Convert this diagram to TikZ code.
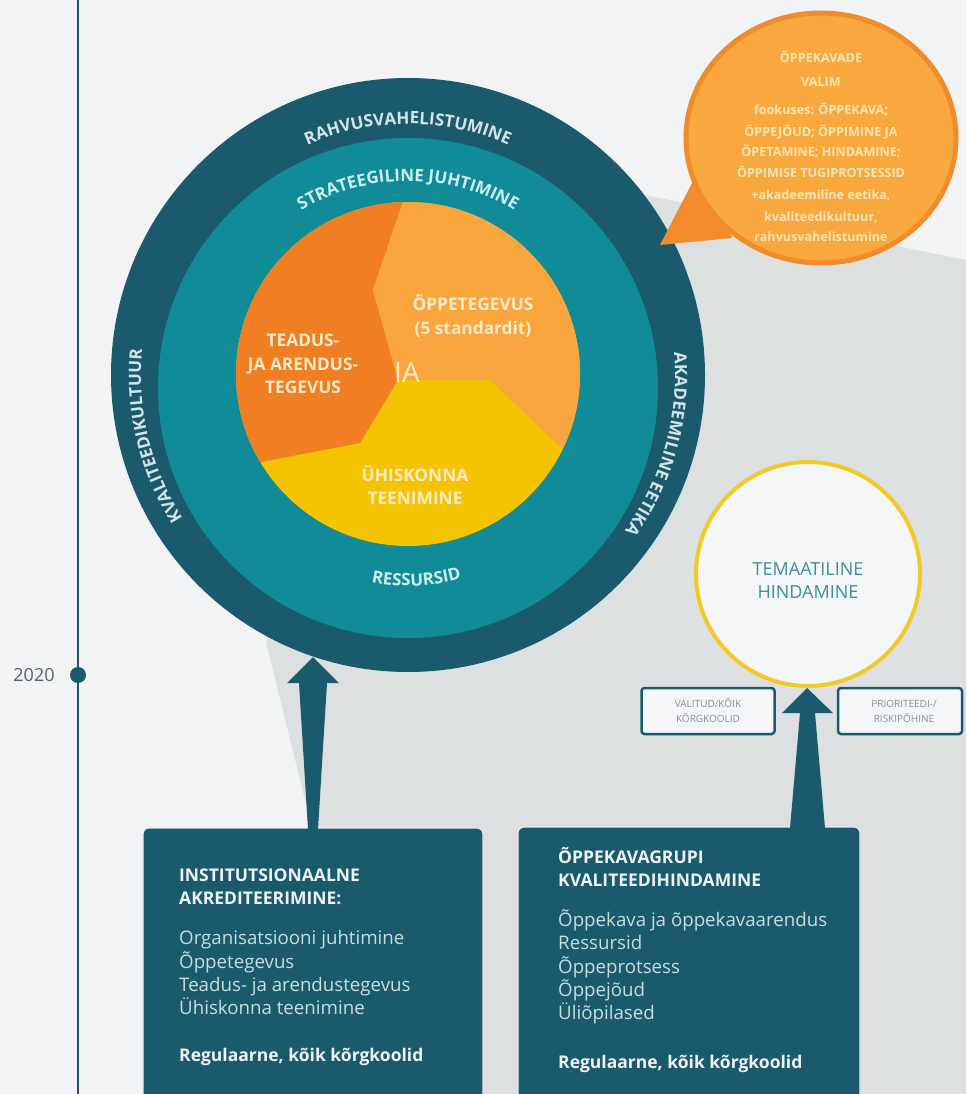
\documentclass[tikz,border=0pt]{standalone}
\usepackage{fontspec}
\setmainfont{Open Sans}
\usetikzlibrary{decorations.text,shapes.geometric}
\definecolor{bglight}{HTML}{F1F3F4}
\definecolor{bgshadow}{HTML}{DDE0E1}
\definecolor{darkteal}{HTML}{1A5A6C}
\definecolor{midteal}{HTML}{108B97}
\definecolor{orangeD}{HTML}{F07E22}
\definecolor{orangeL}{HTML}{F8A63D}
\definecolor{yellowP}{HTML}{F4C402}
\definecolor{creamtxt}{HTML}{FDEBCB}
\definecolor{ringtxtD}{HTML}{D3E4EA}
\definecolor{ringtxtT}{HTML}{CDEFF1}
\definecolor{boxtxt}{HTML}{C8DDE2}
\definecolor{boxtitle}{HTML}{EEF4F5}
\definecolor{bubbleO}{HTML}{F08C2C}
\definecolor{bubbleF}{HTML}{F8A83F}
\definecolor{bubbletxt}{HTML}{FDE6B5}
\definecolor{temaline}{HTML}{F1C928}
\definecolor{temafill}{HTML}{F4F6F8}
\definecolor{tematxt}{HTML}{3F8E99}
\definecolor{smalltxt}{HTML}{7F9199}
\definecolor{yeartxt}{HTML}{5A5F62}
\definecolor{boxedge}{HTML}{E2ECEF}
\tikzset{
  pietxt/.style={text=creamtxt, align=center, inner sep=0pt, font=\fontsize{17.3}{23.5}\selectfont\bfseries},
  boxtitletxt/.style={anchor=base west, inner sep=0pt, text=boxtitle, font=\fontsize{17.5}{17.5}\selectfont\bfseries},
  boxlisttxt/.style={anchor=base west, inner sep=0pt, text=boxtxt, font=\fontsize{18.7}{18.7}\selectfont},
  bubtxt/.style={anchor=base, inner sep=0pt, text=bubbletxt, font=\fontsize{12.6}{12.6}\selectfont\bfseries},
  smallbox/.style={draw=darkteal, line width=2.5pt, fill=temafill, rounded corners=3pt, minimum width=133pt, minimum height=46pt, inner sep=0pt},
  smalltext/.style={text=smalltxt, align=center, inner sep=0pt, font=\fontsize{10}{15}\selectfont},
  bigbox/.style={fill=darkteal, draw=boxedge, line width=1.2pt, rounded corners=6pt, inner sep=0pt},
  arrowshape/.style={fill=darkteal},
}
\begin{document}
\begin{tikzpicture}[x=1pt,y=-1pt]
\useasboundingbox (0,0) rectangle (966,1094);
% background
\fill[bglight] (0,0) rectangle (966,1094);
\fill[bgshadow] (620,190) -- (966,260) -- (966,1094) -- (330,1094) -- (312,828) -- (266,642) -- (408,375) -- cycle;
% timeline
\coordinate (tlTop) at (78,0);
\coordinate (tlBot) at (78,1094);
\draw[darkteal, line width=2.5pt] (tlTop) -- (tlBot);
\node[circle, fill=darkteal, minimum size=16pt, inner sep=0pt] (dot2020) at (78,675) {};
\node[text=yeartxt, font=\fontsize{18}{18}\selectfont, inner sep=0pt] (y2020) at (34,675) {2020};
% big circle
\node[circle, fill=darkteal, minimum size=594pt, inner sep=0pt] (outer) at (408,375) {};
\node[circle, fill=midteal, minimum size=500pt, inner sep=0pt] (ring) at (408,388) {};
\node[circle, fill=yellowP, minimum size=344pt, inner sep=0pt] (pie) at (408,374) {};
\begin{scope}
\clip (408,374) circle[radius=172];
\fill[orangeD] (417,160) -- (373,290) -- (398,380) -- (360,443) -- (230,468) -- (200,470) -- (200,160) -- cycle;
\fill[orangeL] (417,160) -- (373,290) -- (398,380) -- (490,380) -- (600,485) -- (620,485) -- (620,160) -- cycle;
\end{scope}
% ring texts
\path[decorate, decoration={text along path, text align=center, text={|\fontsize{17}{17}\selectfont\bfseries\color{ringtxtD}|RAHVUSVAHELISTUMINE}}]
  plot[domain=-150:-30, samples=80, variable=\t] ({408+251*cos(\t)},{375+251*sin(\t)});
\path[decorate, decoration={text along path, text align=center, text={|\fontsize{17}{17}\selectfont\bfseries\color{ringtxtT}|STRATEEGILINE JUHTIMINE}}]
  plot[domain=-150:-30, samples=80, variable=\t] ({408+207*cos(\t)},{388+207*sin(\t)});
\path[decorate, decoration={text along path, text align=center, text={|\fontsize{17}{17}\selectfont\bfseries\color{ringtxtD}|KVALITEEDIKULTUUR}}]
  plot[domain=120:213, samples=80, variable=\t] ({408+267*cos(\t)},{375+267*sin(\t)});
\path[decorate, decoration={text along path, text align=center, text={|\fontsize{17}{17}\selectfont\bfseries\color{ringtxtD}|AKADEEMILINE EETIKA}}]
  plot[domain=-32:63, samples=80, variable=\t] ({408+267*cos(\t)},{375+267*sin(\t)});
\path[decorate, decoration={text along path, text align=center, text={|\fontsize{17}{17}\selectfont\bfseries\color{ringtxtT}|RESSURSID}}]
  plot[domain=40:135, samples=80, variable=\t] ({408+198*cos(175-\t)},{388+198*sin(175-\t)});
% pie texts
\node[pietxt] (tTeadus) at (303,364) {TEADUS-\\JA ARENDUS-\\TEGEVUS};
\node[pietxt] (tOppe) at (473,316) {ÕPPETEGEVUS\\(5 standardit)};
\node[text=creamtxt, inner sep=0pt, font=\fontsize{28}{28}\selectfont] (tIA) at (407,372) {IA};
\node[pietxt] (tUhis) at (415,485) {ÜHISKONNA\\TEENIMINE};
% orange bubble
\fill[bubbleO] (705,158) -- (660,245) -- (732,238) -- cycle;
\node[ellipse, fill=bubbleF, draw=bubbleO, line width=5pt, minimum width=270pt, minimum height=250pt, inner sep=0pt] (bubble) at (821,138) {};
\node[bubtxt] (b1) at (821,62.5) {ÕPPEKAVADE};
\node[bubtxt] (b2) at (821,86.5) {VALIM};
\node[bubtxt] (b3) at (821,114.5) {fookuses: ÕPPEKAVA;};
\node[bubtxt] (b4) at (821,136.5) {ÕPPEJÕUD; ÕPPIMINE JA};
\node[bubtxt] (b5) at (821,156.5) {ÕPETAMINE; HINDAMINE;};
\node[bubtxt] (b6) at (821,177.5) {ÕPPIMISE TUGIPROTSESSID};
\node[bubtxt] (b7) at (821,199.5) {+akadeemiline eetika,};
\node[bubtxt] (b8) at (821,221.5) {kvaliteedikultuur,};
\node[bubtxt] (b9) at (821,241.5) {rahvusvahelistumine};
% thematic circle
\node[circle, fill=temafill, draw=temaline, line width=4pt, minimum size=224pt, inner sep=0pt] (tema) at (808,574) {};
\node[text=tematxt, align=center, inner sep=0pt, font=\fontsize{18}{23}\selectfont] (tTema) at (808,581) {TEMAATILINE\\HINDAMINE};
% small boxes
\node[smallbox] (sbL) at (708,711) {};
\node[smalltext] (sbLt) at (sbL) {VALITUD/KÕIK\\KÕRGKOOLID};
\node[smallbox, minimum width=124pt] (sbR) at (900,711) {};
\node[smalltext] (sbRt) at (904,711) {PRIORITEEDI-/\\RISKIPÕHINE};
% big boxes
\node[bigbox, minimum width=340pt, minimum height=290pt] (boxL) at (313,973) {};
\node[bigbox, minimum width=342pt, minimum height=290pt] (boxR) at (689,972) {};
% arrows
\coordinate (tipL) at (313,657);
\coordinate (tipR) at (807,688);
\fill[arrowshape] (tipL) -- (339,683) -- (327,683) -- (318,829) -- (308,829) -- (299,683) -- (287,683) -- cycle;
\fill[arrowshape] (tipR) -- (833,713) -- (815,713) -- (825,828) -- (790,828) -- (800,713) -- (782,713) -- cycle;
% left box text
\node[boxtitletxt] (l1) at (179,881) {INSTITUTSIONAALNE};
\node[boxtitletxt] (l2) at (179,904) {AKREDITEERIMINE:};
\node[boxlisttxt] (l3) at (179,944) {Organisatsiooni juhtimine};
\node[boxlisttxt] (l4) at (179,968) {Õppetegevus};
\node[boxlisttxt] (l5) at (179,991) {Teadus- ja arendustegevus};
\node[boxlisttxt] (l6) at (179,1014) {Ühiskonna teenimine};
\node[boxtitletxt] (l7) at (179,1061) {Regulaarne, kõik kõrgkoolid};
% right box text
\node[boxtitletxt] (r1) at (558,863) {ÕPPEKAVAGRUPI};
\node[boxtitletxt] (r2) at (558,886) {KVALITEEDIHINDAMINE};
\node[boxlisttxt] (r3) at (558,926) {Õppekava ja õppekavaarendus};
\node[boxlisttxt] (r4) at (558,949) {Ressursid};
\node[boxlisttxt] (r5) at (558,973) {Õppeprotsess};
\node[boxlisttxt] (r6) at (558,996) {Õppejõud};
\node[boxlisttxt] (r7) at (558,1019) {Üliõpilased};
\node[boxtitletxt] (r8) at (558,1068) {Regulaarne, kõik kõrgkoolid};
\end{tikzpicture}
\end{document}
